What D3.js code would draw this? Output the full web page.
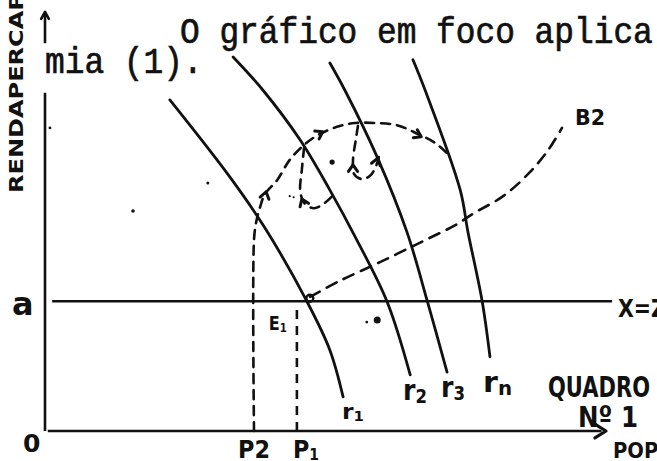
<!DOCTYPE html>
<html><head><meta charset="utf-8">
<script src="https://cdn.jsdelivr.net/npm/d3@7"></script>
<style>html,body{margin:0;padding:0;background:#fff;overflow:hidden}</style>
</head><body>
<svg id="c" width="657" height="461"></svg>
<script>
// ---- data (chart units: x = população, y = renda per capita) ----
const levelA = 2.36;               // renda "a"  (X = Z)
const popP2 = 3.80, popP1 = 4.58;  // P2, P1
const pointE1 = [4.76, 2.36];
const curveR1 = [[2.27,6.02],[3.36,4.62],[4.00,3.69],[4.76,2.36],[5.18,1.47],[5.42,0.62]];
const curveR2 = [[3.42,6.80],[3.96,6.20],[4.64,5.29],[5.18,4.38],[5.64,3.53],[6.22,2.35],[6.64,1.02]];
const curveR3 = [[5.18,6.69],[5.45,6.20],[6.04,4.98],[6.58,3.62],[6.96,2.33],[7.31,1.07]];
const curveRn = [[6.69,6.75],[6.91,6.20],[7.55,4.38],[7.69,3.62],[7.95,2.35],[8.09,1.35]];
const curveB2 = [[4.82,2.44],[5.36,2.73],[6.09,3.07],[6.87,3.45],[7.49,3.76],[7.78,3.95],[8.33,4.27],[8.82,4.71],[9.15,5.11],[9.40,5.51]];
const pathMain = [[3.80,0.00],[3.80,3.47],[3.84,3.80],[3.91,4.07],[4.00,4.31],[4.22,4.56],[4.45,4.93],[4.71,5.20],[4.96,5.38],[5.31,5.53],[5.64,5.60],[6.00,5.60],[6.40,5.56],[6.78,5.40],[7.09,5.24],[7.31,5.05]];
const pathLoopLeft = [[4.71,5.15],[4.67,4.75],[4.64,4.38],[4.71,4.15],[4.89,4.05],[5.09,4.15],[5.24,4.29]];
const pathLoopRight = [[5.69,5.55],[5.65,5.29],[5.60,4.93],[5.62,4.67],[5.76,4.58],[5.91,4.64],[6.02,4.82],[6.07,4.98]];
const arrowHeads = [
  {p:[4.02,4.35], d:[0.25,1]},
  {p:[5.05,5.44], d:[1,0.55]},
  {p:[6.84,5.35], d:[1,-0.5]},
  {p:[5.60,4.84], d:[0,1]},
  {p:[6.05,4.96], d:[0.3,1]},
  {p:[4.67,4.22], d:[-0.4,1]}
];
const specks = [[5.22,4.89,2.6],[6.04,2.02,3.5],[4.45,4.27,1.1],[4.52,4.25,1.1],[0.09,5.51,1.4],[2.96,4.51,1.5],[1.60,4.00,1.8],[5.85,1.98,1.4]];
const curveNames = ["r","r","r","r"];
const curveSubs = ["1","2","3","n"];
const typedLine1 = "O gráfico em foco aplica-";
const typedLine2 = "mia (1).";
const yTitle = "RENDAPERCAPITA";
const xTitle = "POPULAÇÃO";
const boxTitle = ["QUADRO", "Nº 1"];

// ---- layout ----
const W = 657, H = 461;
const svg = d3.select("#c");
const x = d3.scaleLinear().domain([0,10]).range([45,595]);
const y = d3.scaleLinear().domain([0,7]).range([431,46]);
const line = d3.line().x(d=>x(d[0])).y(d=>y(d[1]));
const smooth = d3.line().x(d=>x(d[0])).y(d=>y(d[1])).curve(d3.curveCatmullRom.alpha(0.5));
const ink = "#111";
const hand = "'DejaVu Sans', 'Liberation Sans', sans-serif";

svg.append("rect").attr("width",W).attr("height",H).attr("fill","#fff");

// axes
svg.append("path").attr("d", line([[0,0],[0,6.15]])).attr("stroke",ink).attr("stroke-width",2.6).attr("fill","none");
svg.append("path").attr("d", line([[0.0,7.05],[0.0,7.58]])).attr("stroke",ink).attr("stroke-width",2.6).attr("fill","none");
svg.append("path").attr("d", line([[0.05,0],[10.12,0]])).attr("stroke",ink).attr("stroke-width",2.6).attr("fill","none");
svg.append("path").attr("d", line([[0.13,levelA],[10.31,levelA]])).attr("stroke",ink).attr("stroke-width",2.4).attr("fill","none");

function arrowHead(px, py, ang, len, spread, sw){
  const a1 = ang + Math.PI - spread, a2 = ang + Math.PI + spread;
  const p = `M${px+len*Math.cos(a1)},${py+len*Math.sin(a1)}L${px},${py}L${px+len*Math.cos(a2)},${py+len*Math.sin(a2)}`;
  svg.append("path").attr("d",p).attr("stroke",ink).attr("stroke-width",sw).attr("fill","none").attr("stroke-linecap","round").attr("stroke-linejoin","round");
}
// axis arrows
arrowHead(x(0), y(7.62), -Math.PI/2, 8, 0.5, 2.6);
arrowHead(x(10.2), y(0), 0, 13, 0.55, 3.2);

// solid r curves
[curveR1, curveR2, curveR3, curveRn].forEach(c=>{
  svg.append("path").attr("d", smooth(c)).attr("stroke",ink).attr("stroke-width",2.8).attr("fill","none").attr("stroke-linecap","round");
});

// dashed paths
const dash = "9,7";
svg.append("path").attr("d", line([[popP1,0],[popP1,levelA-0.09]])).attr("stroke",ink).attr("stroke-width",2.6).attr("stroke-dasharray",dash).attr("fill","none");
[curveB2, pathMain, pathLoopLeft, pathLoopRight].forEach((c,i)=>{
  svg.append("path").attr("d", smooth(c)).attr("stroke",ink).attr("stroke-width",2.6)
    .attr("stroke-dasharray", i===0 ? "11,8" : dash).attr("fill","none").attr("stroke-linecap","round");
});
arrowHeads.forEach(a=>{
  const ang = Math.atan2(y(a.p[1]+a.d[1]*0.1)-y(a.p[1]), x(a.p[0]+a.d[0]*0.1)-x(a.p[0]));
  arrowHead(x(a.p[0]), y(a.p[1]), ang, 8, 0.6, 3);
});

// E1 mark and specks
svg.append("circle").attr("cx",x(pointE1[0])+3).attr("cy",y(pointE1[1])-3).attr("r",3.5).attr("fill","none").attr("stroke",ink).attr("stroke-width",2.4);
svg.selectAll(".sp").data(specks).enter().append("circle").attr("cx",d=>x(d[0])).attr("cy",d=>y(d[1])).attr("r",d=>d[2]).attr("fill",ink);

// typed text
const mono = "'Liberation Mono', 'DejaVu Sans Mono', monospace";
svg.append("text").attr("x",180).attr("y",43).attr("font-family",mono).attr("font-size",36)
  .attr("textLength",typedLine1.length*19.7).attr("lengthAdjust","spacingAndGlyphs").attr("fill",ink)
  .attr("stroke",ink).attr("stroke-width",0.7).text(typedLine1);
svg.append("text").attr("x",45).attr("y",73).attr("font-family",mono).attr("font-size",36)
  .attr("textLength",typedLine2.length*19.7).attr("lengthAdjust","spacingAndGlyphs").attr("fill",ink)
  .attr("stroke",ink).attr("stroke-width",0.7).text(typedLine2);

// axis titles
svg.append("text").attr("transform","translate(23,193) rotate(-90)").attr("font-family",hand).attr("font-weight","bold")
  .attr("font-size",20).attr("textLength",242).attr("lengthAdjust","spacingAndGlyphs").attr("fill",ink).text(yTitle);
svg.append("text").attr("x",613).attr("y",458).attr("font-family",hand).attr("font-weight","bold")
  .attr("font-size",22).attr("textLength",135).attr("lengthAdjust","spacingAndGlyphs").attr("fill",ink).text(xTitle);

// labels
function label(tx, ty, main, sub, fs, subfs, tl){
  const t = svg.append("text").attr("x",tx).attr("y",ty).attr("font-family",hand).attr("font-weight","bold").attr("font-size",fs).attr("fill",ink);
  if(tl) t.attr("textLength",tl).attr("lengthAdjust","spacingAndGlyphs");
  t.append("tspan").text(main);
  if(sub) t.append("tspan").attr("font-size",subfs).attr("dy",subfs*0.15).text(sub);
  return t;
}
label(x(0)-22, y(0)+21, "0", null, 25);
label(x(0)-33, y(levelA)+14, "a", null, 32);
label(x(popP2)-16, y(0)+27, "P2", null, 24, null, 32);
label(x(popP1)-4, y(0)+27, "P", "1", 24, 15, 26);
label(x(pointE1[0])-38, y(pointE1[1])+29, "E", "1", 19, 12, 18);
const rLabelAt = [[342,419],[403,400],[441,397],[483,392]];
curveNames.forEach((n,i)=>{
  const fs = i===0 ? 22 : 29;
  label(rLabelAt[i][0], rLabelAt[i][1], n, curveSubs[i], fs, i===0?14:19, i===0?22:(i===3?29:24));
});
label(575, 125, "B2", null, 21, null, 30);
label(618, 317, "X=Z", null, 25, null, 48);
label(548, 397, boxTitle[0], null, 29, null, 102);
label(578, 427, boxTitle[1], null, 29, null, 60);
</script>
</body></html>
